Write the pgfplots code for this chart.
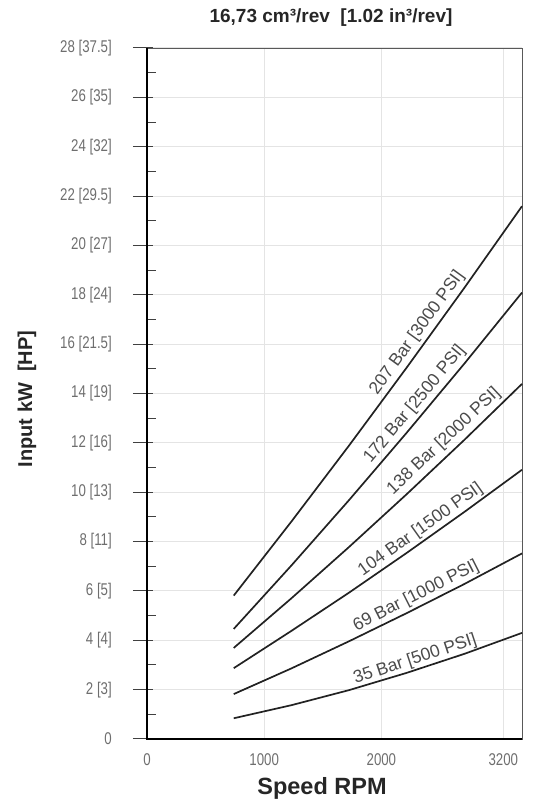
\documentclass[border=0pt]{standalone}
\usepackage{fontspec}
\setmainfont{Liberation Sans}
\newfontfamily\condfont[FakeStretch=0.78]{Liberation Sans}
\usepackage{pgfplots}
\pgfplotsset{compat=1.18}
\definecolor{tickgray}{HTML}{6E6E6E}
\definecolor{labgray}{HTML}{4A4A4A}
\definecolor{gridgray}{HTML}{E4E4E4}
\definecolor{curve}{HTML}{222222}
\begin{document}
\begin{tikzpicture}[x=1pt,y=1pt]
\useasboundingbox (0,0) rectangle (534,806);
\begin{axis}[
  at={(147pt,67pt)}, anchor=south west,
  scale only axis, width=375pt, height=691pt,
  xmin=0, xmax=3200, ymin=0, ymax=28,
  xtick={0,1000,2000,3040},
  xticklabels={0,1000,2000,3200},
  ytick={0,2,...,28},
  yticklabels={{0},{2 [3]},{4 [4]},{6 [5]},{8 [11]},{10 [13]},{12 [16]},{14 [19]},{16 [21.5]},{18 [24]},{20 [27]},{22 [29.5]},{24 [32]},{26 [35]},{28 [37.5]}},
  minor y tick num=1,
  tick pos=left,
  grid=major,
  major grid style={draw=gridgray, line width=1pt},
  axis line style={draw=gray!70!black, line width=0.9pt},
  tick align=center,
  major tick length=20pt,
  minor tick length=9pt,
  major x tick style={draw=none},
  major y tick style={draw=black!75, line width=1pt, xshift=-4pt},
  minor y tick style={draw=black!75, line width=1pt, xshift=4.5pt},
  yticklabel style={font=\condfont\fontsize{17}{17}\selectfont, text=tickgray, anchor=east, inner sep=0pt, xshift=-25pt},
  xticklabel style={font=\condfont\fontsize{17}{17}\selectfont, text=tickgray, anchor=north, inner sep=0pt, yshift=-4pt},
  clip=false,
]
\draw[black, line width=1.3pt] (rel axis cs:0,1) -- (rel axis cs:0,0) -- (rel axis cs:1,0);
\addplot[curve, line width=1.7pt, mark=none, solid] coordinates {(740,5.81) (1232,8.81) (1724,11.89) (2216,15.05) (2708,18.28) (3200,21.59)}
  node[pos=0.67, sloped, above, inner sep=3pt, font=\fontsize{17.5}{17.5}\selectfont, text=labgray] {207 Bar [3000 PSI]};
\addplot[curve, line width=1.7pt, mark=none, solid] coordinates {(740,4.46) (1232,7.03) (1724,9.68) (2216,12.41) (2708,15.21) (3200,18.09)}
  node[pos=0.66, sloped, above, inner sep=3pt, font=\fontsize{17.5}{17.5}\selectfont, text=labgray] {172 Bar [2500 PSI]};
\addplot[curve, line width=1.7pt, mark=none, solid] coordinates {(740,3.69) (1232,5.70) (1724,7.78) (2216,9.92) (2708,12.12) (3200,14.39)}
  node[pos=0.76, sloped, above, inner sep=4pt, font=\fontsize{17.5}{17.5}\selectfont, text=labgray] {138 Bar [2000 PSI]};
\addplot[curve, line width=1.7pt, mark=none, solid] coordinates {(740,2.87) (1232,4.38) (1724,5.93) (2216,7.54) (2708,9.20) (3200,10.91)}
  node[pos=0.67, sloped, above, inner sep=2pt, font=\fontsize{17.5}{17.5}\selectfont, text=labgray] {104 Bar [1500 PSI]};
\addplot[curve, line width=1.7pt, mark=none, solid] coordinates {(740,1.82) (1232,2.86) (1724,3.96) (2216,5.10) (2708,6.28) (3200,7.52)}
  node[pos=0.65, sloped, above, inner sep=2pt, font=\fontsize{17.5}{17.5}\selectfont, text=labgray] {69 Bar [1000 PSI]};
\addplot[curve, line width=1.7pt, mark=none, solid] coordinates {(740,0.84) (1232,1.37) (1724,1.98) (2216,2.68) (2708,3.45) (3200,4.30)}
  node[pos=0.64, sloped, above, inner sep=1pt, font=\fontsize{17.5}{17.5}\selectfont, text=labgray] {35 Bar [500 PSI]};
\end{axis}
\node[font=\bfseries\fontsize{19}{19}\selectfont, text=black!85] at (331,788) {16,73 cm³/rev\ \ [1.02 in³/rev]};
\node[rotate=90, font=\bfseries\fontsize{20}{20}\selectfont, text=black!85] at (27,407) {Input kW\ \ [HP]};
\node[font=\bfseries\fontsize{23.5}{23.5}\selectfont, text=black!85] at (322,18) {Speed RPM};
\end{tikzpicture}
\end{document}
